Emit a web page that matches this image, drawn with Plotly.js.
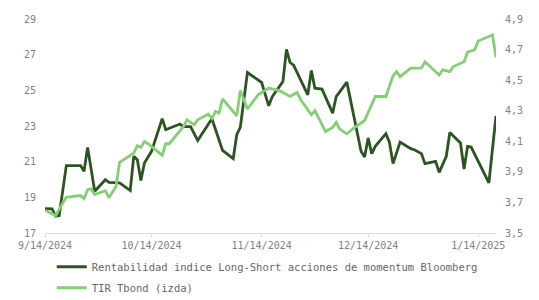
<!DOCTYPE html>
<html>
<head>
<meta charset="utf-8">
<script src="https://cdn.plot.ly/plotly-3.0.1.min.js"></script>
<style>html,body{margin:0;padding:0;background:#fff;}#chart{width:539px;height:300px;}</style>
</head>
<body>
<div id="chart"></div>
<script>
// Rentabilidad indice Long-Short acciones de momentum Bloomberg (left axis)
const momDates = ['2024-09-14','2024-09-16','2024-09-17','2024-09-18','2024-09-20','2024-09-24','2024-09-25','2024-09-26','2024-09-28','2024-10-01','2024-10-02','2024-10-05','2024-10-08','2024-10-09','2024-10-10','2024-10-11','2024-10-12','2024-10-14','2024-10-17','2024-10-18','2024-10-22','2024-10-23','2024-10-25','2024-10-27','2024-10-31','2024-11-03','2024-11-06','2024-11-07','2024-11-08','2024-11-10','2024-11-14','2024-11-16','2024-11-17','2024-11-20','2024-11-21','2024-11-22','2024-11-23','2024-11-27','2024-11-28','2024-11-29','2024-12-01','2024-12-04','2024-12-05','2024-12-08','2024-12-12','2024-12-13','2024-12-14','2024-12-15','2024-12-16','2024-12-19','2024-12-20','2024-12-21','2024-12-23','2024-12-25','2024-12-26','2024-12-27','2024-12-29','2024-12-30','2025-01-02','2025-01-03','2025-01-05','2025-01-06','2025-01-09','2025-01-10','2025-01-11','2025-01-12','2025-01-17','2025-01-19'];
const momValues = [18.37,18.35,17.94,17.98,20.78,20.78,20.46,21.8,19.34,19.99,19.84,19.81,19.38,21.3,21.11,19.95,20.93,21.58,23.41,22.79,23.11,22.97,22.97,22.19,23.41,21.63,21.17,22.51,22.92,26.0,25.44,24.13,24.65,25.49,27.3,26.56,26.41,24.75,26.11,25.12,25.07,23.72,24.65,25.46,21.58,21.26,22.33,21.45,21.86,22.57,22.08,20.89,22.1,21.86,21.73,21.67,21.45,20.89,21.02,20.4,21.3,22.64,22.05,20.59,21.86,21.82,19.81,23.57];

// TIR Tbond (right axis)
const tirDates = ['2024-09-14','2024-09-17','2024-09-19','2024-09-20','2024-09-24','2024-09-25','2024-09-26','2024-09-27','2024-09-28','2024-10-01','2024-10-02','2024-10-04','2024-10-05','2024-10-09','2024-10-10','2024-10-11','2024-10-12','2024-10-13','2024-10-17','2024-10-18','2024-10-19','2024-10-23','2024-10-24','2024-10-26','2024-10-27','2024-10-30','2024-10-31','2024-11-01','2024-11-02','2024-11-03','2024-11-07','2024-11-08','2024-11-10','2024-11-13','2024-11-16','2024-11-17','2024-11-19','2024-11-22','2024-11-24','2024-11-25','2024-11-28','2024-11-29','2024-12-02','2024-12-04','2024-12-05','2024-12-06','2024-12-08','2024-12-10','2024-12-13','2024-12-16','2024-12-19','2024-12-21','2024-12-22','2024-12-23','2024-12-26','2024-12-29','2024-12-30','2025-01-03','2025-01-04','2025-01-06','2025-01-07','2025-01-10','2025-01-11','2025-01-13','2025-01-14','2025-01-18','2025-01-19'];
const tirValues = [3.649,3.614,3.697,3.734,3.745,3.725,3.784,3.789,3.751,3.777,3.730,3.805,3.962,4.023,4.071,4.060,4.099,4.084,4.008,4.084,4.084,4.197,4.241,4.208,4.241,4.278,4.249,4.295,4.285,4.378,4.267,4.432,4.311,4.404,4.448,4.441,4.432,4.393,4.419,4.371,4.273,4.300,4.164,4.191,4.223,4.180,4.149,4.187,4.236,4.393,4.393,4.528,4.556,4.523,4.578,4.578,4.621,4.534,4.567,4.556,4.589,4.621,4.683,4.698,4.756,4.796,4.650];

const xTickVals = ['2024-09-14','2024-10-14','2024-11-14','2024-12-14','2025-01-14'];
const xTickText = ['9/14/2024','10/14/2024','11/14/2024','12/14/2024','1/14/2025'];
const seriesNames = ['Rentabilidad indice Long-Short acciones de momentum Bloomberg','TIR Tbond (izda)'];

const FONT = 'DejaVu Sans Mono, monospace';

const traces = [
  {x: momDates, y: momValues, name: seriesNames[0], type: 'scatter', mode: 'lines',
   line: {color: '#2c5421', width: 2.8}, yaxis: 'y', legendgroup: 'a'},
  {x: tirDates, y: tirValues, name: seriesNames[1], type: 'scatter', mode: 'lines',
   line: {color: '#84cf76', width: 2.8}, yaxis: 'y2', legendgroup: 'b'}
];

const layout = {
  width: 539, height: 300,
  margin: {l: 45, r: 43, t: 19, b: 66.5, autoexpand: false},
  paper_bgcolor: '#ffffff', plot_bgcolor: '#ffffff',
  separators: ',.',
  font: {family: FONT, size: 10, color: '#808080'},
  showlegend: true,
  legend: {orientation: 'v', x: 0.015, xanchor: 'left', y: -0.09, yanchor: 'top',
    traceorder: 'grouped', tracegroupgap: 2,
    font: {family: FONT, size: 10.5, color: '#666666'},
    bgcolor: 'rgba(0,0,0,0)'},
  xaxis: {type: 'date', range: ['2024-09-14', '2025-01-19'],
    tickvals: xTickVals, ticktext: xTickText,
    showgrid: false, zeroline: false, showline: true, linecolor: '#dddddd', linewidth: 1,
    ticks: 'outside', ticklen: 3, tickcolor: '#dddddd',
    tickfont: {family: FONT, size: 10, color: '#808080'}},
  yaxis: {range: [17, 29], dtick: 2, tick0: 17, showgrid: false, zeroline: false,
    showline: false, ticks: '', ticklabelstandoff: 8,
    tickfont: {family: FONT, size: 10, color: '#808080'}},
  yaxis2: {range: [3.5, 4.9], dtick: 0.2, tick0: 3.5, tickformat: '.1f', overlaying: 'y', side: 'right',
    showgrid: false, zeroline: false, showline: false, ticks: '', ticklabelstandoff: 8,
    tickfont: {family: FONT, size: 10, color: '#808080'}}
};

Plotly.newPlot('chart', traces, layout, {displayModeBar: false, staticPlot: true});
</script>
</body>
</html>
